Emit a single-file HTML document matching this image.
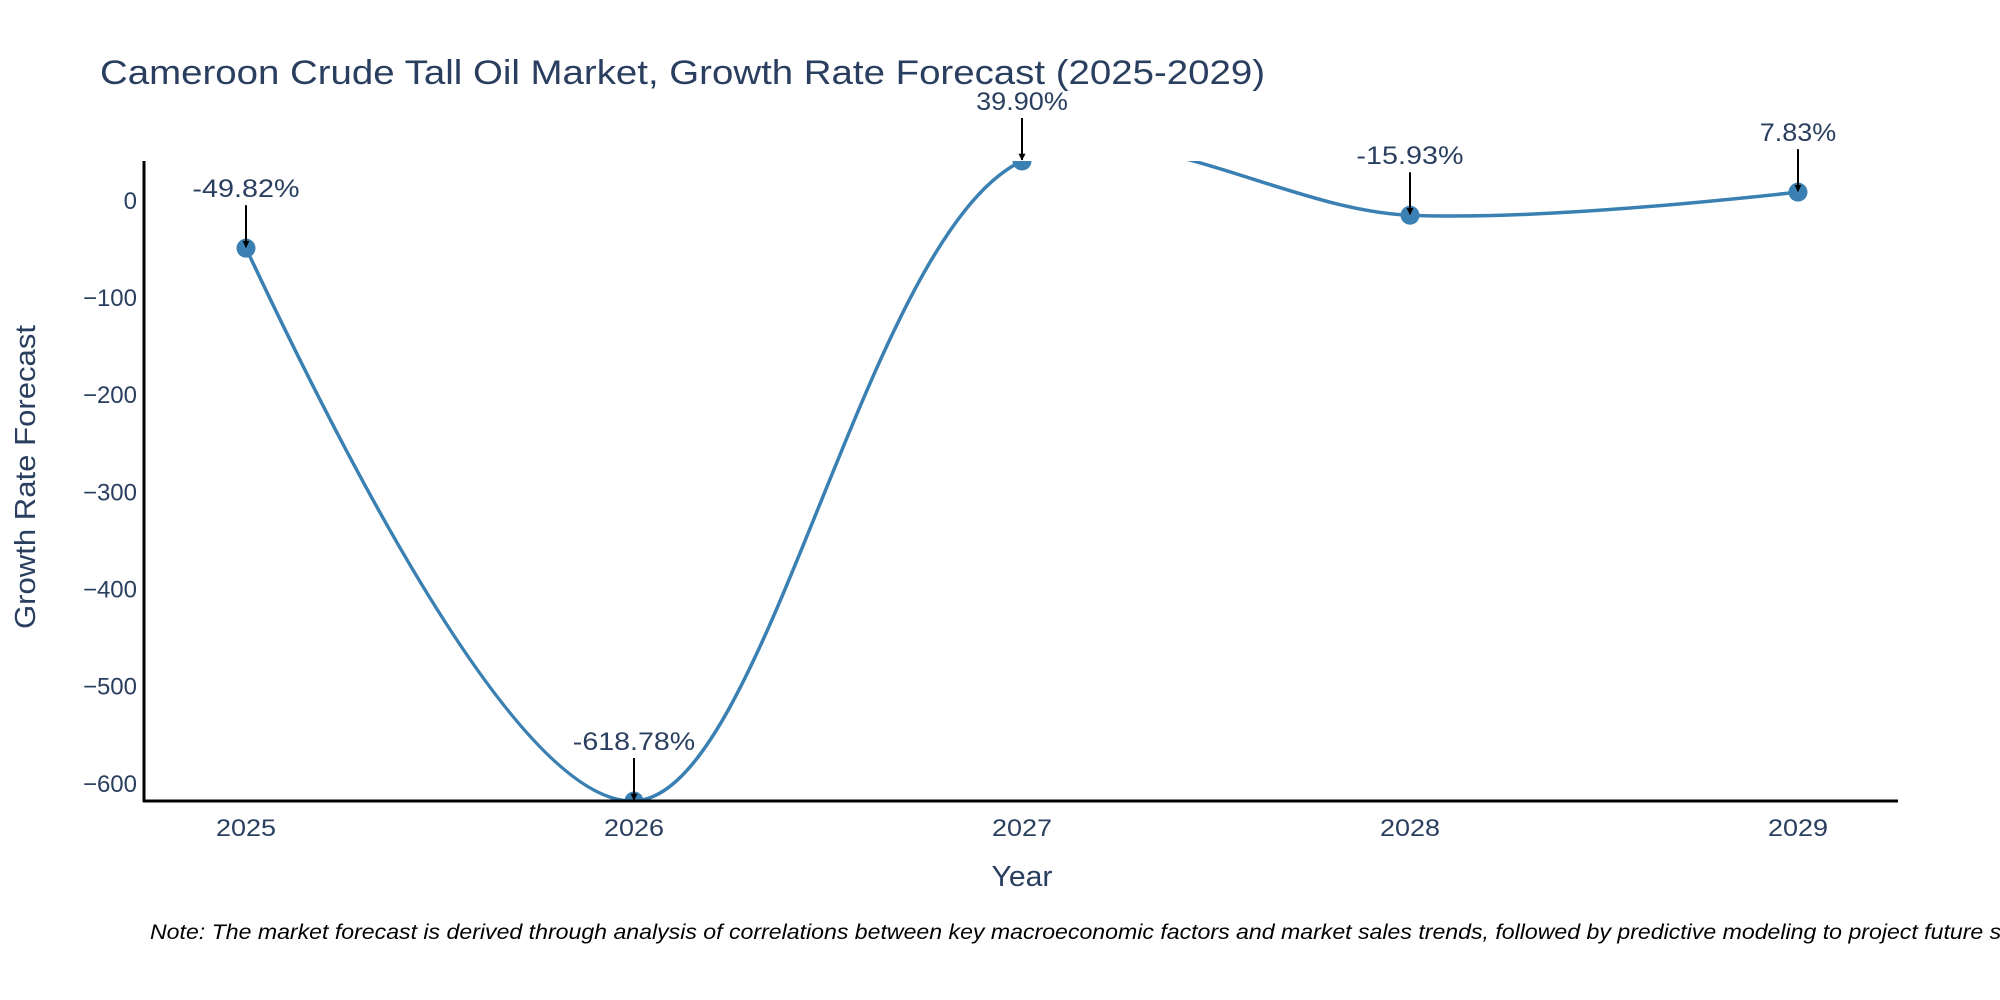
<!DOCTYPE html>
<html><head><meta charset="utf-8"><style>
html,body{margin:0;padding:0;background:#fff;}
svg{display:block;font-family:"Liberation Sans",sans-serif;}
</style></head><body>
<svg id="chart" width="2000" height="1000" viewBox="0 0 2000 1000">
<defs><clipPath id="plotclip"><rect x="144" y="161" width="1754" height="640"/></clipPath>
<marker id="arrowhead" viewBox="0 0 10 10" refX="9" refY="5" markerWidth="7" markerHeight="7" orient="auto" markerUnits="userSpaceOnUse"><path d="M0,0 L10,5 L0,10 z" fill="#000"/></marker></defs>
<text x="100" y="84" font-size="34" fill="#2a3f5f" textLength="1165" lengthAdjust="spacingAndGlyphs">Cameroon Crude Tall Oil Market, Growth Rate Forecast (2025-2029)</text>
<g id="yticks"></g>
<g id="xticks"></g>
<g clip-path="url(#plotclip)" id="series"></g>
<line x1="144" y1="161" x2="144" y2="802" stroke="#000" stroke-width="3"/>
<line x1="143" y1="801" x2="1898" y2="801" stroke="#000" stroke-width="3"/>
<g id="annots"></g>
<text x="1022" y="886" font-size="29" fill="#2a3f5f" text-anchor="middle" textLength="61" lengthAdjust="spacingAndGlyphs">Year</text>
<text x="0" y="0" transform="translate(35,477) rotate(-90)" font-size="29" fill="#2a3f5f" text-anchor="middle" textLength="304" lengthAdjust="spacingAndGlyphs">Growth Rate Forecast</text>
<text x="150" y="939" font-size="21" font-style="italic" fill="#000" textLength="1900" lengthAdjust="spacingAndGlyphs">Note: The market forecast is derived through analysis of correlations between key macroeconomic factors and market sales trends, followed by predictive modeling to project future sales.</text>
</svg>
<script>
const years = [2025, 2026, 2027, 2028, 2029];
const growth = [-49.82, -618.78, 39.90, -15.93, 7.83];
const labels = ["-49.82%", "-618.78%", "39.90%", "-15.93%", "7.83%"];
const yTicks = [0, -100, -200, -300, -400, -500, -600];
const NS = "http://www.w3.org/2000/svg";
const yMin = -618.78, yMax = 39.90;
function xs(v){ return 246 + (v - 2025) * 388; }
function ys(v){ return 161 + (yMax - v) / (yMax - yMin) * 640; }
function mk(tag, attrs, parent){ const e=document.createElementNS(NS,tag); for(const k in attrs) e.setAttribute(k,attrs[k]); parent.appendChild(e); return e; }
const yg=document.getElementById('yticks');
yTicks.forEach(t=>{
  const e=mk('text',{x:137,y:ys(t)+9,'font-size':24,fill:'#2a3f5f','text-anchor':'end'},yg);
  
  
  e.textContent = t===0 ? '0' : '\u2212'+Math.abs(t);
});
const xg=document.getElementById('xticks');
years.forEach(y=>{
  const e=mk('text',{x:xs(y),y:836,'font-size':24,fill:'#2a3f5f','text-anchor':'middle','textLength':60,'lengthAdjust':'spacingAndGlyphs'},xg);
  
  
  e.textContent=y;
});
const pts=years.map((y,i)=>[xs(y),ys(growth[i])]);
function tangent(p0,p1,p2,s){
  const dx0=p0[0]-p1[0],dy0=p0[1]-p1[1],dx2=p2[0]-p1[0],dy2=p2[1]-p1[1];
  const d0=Math.pow(dx0*dx0+dy0*dy0,0.25),d2=Math.pow(dx2*dx2+dy2*dy2,0.25);
  const nx=(d2*d2*dx0-d0*d0*dx2)*s,ny=(d2*d2*dy0-d0*d0*dy2)*s;
  const den0=3*d2*(d0+d2),den2=3*d0*(d0+d2);
  return [[p1[0]+nx/den0,p1[1]+ny/den0],[p1[0]-nx/den2,p1[1]-ny/den2]];
}
const tg=[];
for(let i=1;i<pts.length-1;i++) tg.push(tangent(pts[i-1],pts[i],pts[i+1],1));
let d='M'+pts[0]+'Q'+tg[0][0]+' '+pts[1];
for(let i=2;i<pts.length-1;i++) d+='C'+tg[i-2][1]+' '+tg[i-1][0]+' '+pts[i];
d+='Q'+tg[tg.length-1][1]+' '+pts[pts.length-1];
const sg=document.getElementById('series');
const line=mk('path',{d:d,fill:'none',stroke:'#3a80b2','stroke-width':3.5},sg);


pts.forEach(p=>{
  const c=mk('circle',{cx:p[0],cy:p[1],r:9.5,fill:'#3a80b2'},sg);
  
  
});
const ag=document.getElementById('annots');
pts.forEach((p,i)=>{
  const a=mk('line',{x1:p[0],y1:p[1]-43,x2:p[0],y2:p[1]-1,stroke:'#000','stroke-width':2,'marker-end':'url(#arrowhead)'},ag);
  
  
  const t=mk('text',{x:p[0],y:p[1]-51,'font-size':25,fill:'#2a3f5f','text-anchor':'middle','textLength':labels[i].length*15.3,'lengthAdjust':'spacingAndGlyphs'},ag);
  
  
  t.textContent=labels[i];
});
</script>
</body></html>
